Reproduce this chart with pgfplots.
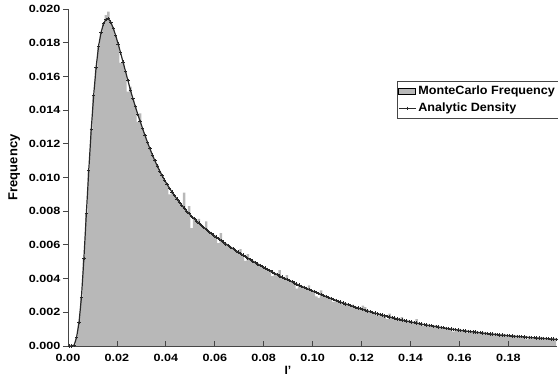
\documentclass[border=0pt]{standalone}
\usepackage{fontspec}
\setmainfont{Liberation Sans}
\newfontfamily\tickfont[FakeStretch=1.2]{Liberation Sans}
\newfontfamily\legfont[FakeStretch=1.05]{Liberation Sans}
\usepackage{pgfplots}
\usepackage{pgfplotstable}
\pgfplotsset{compat=1.18}
\definecolor{histgray}{RGB}{184,184,184}
\definecolor{lineclr}{RGB}{40,40,40}
\definecolor{axclr}{RGB}{70,70,70}
\pgfplotstableread{
x h d
0.0005 0 0
0.0015 0 0
0.0025 0.00005 0.00005
0.0035 0.0005 0.0005
0.0045 0.0014 0.0014
0.0055 0.0029 0.0029
0.0065 0.0052 0.0052
0.0075 0.00785 0.00785
0.0085 0.01045 0.01045
0.0095 0.01285 0.01285
0.0105 0.0149 0.0149
0.0115 0.01655 0.01655
0.0125 0.0178 0.0178
0.0135 0.0186 0.0186
0.0145 0.0191 0.01912
0.0155 0.01964 0.01938
0.0165 0.01985 0.01942
0.0175 0.01922 0.01922
0.0185 0.01885 0.01885
0.0195 0.01842 0.01842
0.0205 0.01793 0.01793
0.0215 0.0168 0.0174
0.0225 0.01685 0.01685
0.0235 0.0163 0.0163
0.0245 0.0151 0.01575
0.0255 0.0154 0.0152
0.0265 0.0147 0.0147
0.0275 0.01422 0.01422
0.0285 0.0133 0.01376
0.0295 0.0138 0.01333
0.0305 0.0129 0.0129
0.0315 0.01248 0.01248
0.0325 0.01208 0.01208
0.0335 0.0117 0.0117
0.0345 0.01134 0.01134
0.0355 0.011 0.011
0.0365 0.01075 0.01068
0.0375 0.01038 0.01038
0.0385 0.0101 0.0101
0.0395 0.00984 0.00984
0.0405 0.00959 0.00959
0.0415 0.009 0.00936
0.0425 0.00914 0.00914
0.0435 0.00893 0.00893
0.0445 0.00873 0.00873
0.0455 0.00854 0.00854
0.0465 0.00836 0.00836
0.0475 0.0091 0.00818
0.0485 0.00801 0.00801
0.0495 0.0083 0.00785
0.0505 0.007 0.0077
0.0515 0.00756 0.00756
0.0525 0.00742 0.00742
0.0535 0.00755 0.00729
0.0545 0.00716 0.00716
0.0555 0.00704 0.00704
0.0565 0.0074 0.00692
0.0575 0.0068 0.0068
0.0585 0.00669 0.00669
0.0595 0.00658 0.00658
0.0605 0.00647 0.00647
0.0615 0.0061 0.00637
0.0625 0.0067 0.00626
0.0635 0.00616 0.00616
0.0645 0.00606 0.00606
0.0655 0.00596 0.00596
0.0665 0.00586 0.00586
0.0675 0.00577 0.00577
0.0685 0.00567 0.00567
0.0695 0.00558 0.00558
0.0705 0.00575 0.00549
0.0715 0.00539 0.00539
0.0725 0.00505 0.0053
0.0735 0.00545 0.00521
0.0745 0.00512 0.00512
0.0755 0.00504 0.00504
0.0765 0.00495 0.00495
0.0775 0.00487 0.00487
0.0785 0.00479 0.00479
0.0795 0.00471 0.00471
0.0805 0.00463 0.00463
0.0815 0.00455 0.00455
0.0825 0.00447 0.00447
0.0835 0.00415 0.00439
0.0845 0.00431 0.00431
0.0855 0.00424 0.00424
0.0865 0.0045 0.00416
0.0875 0.00409 0.00409
0.0885 0.00402 0.00402
0.0895 0.0042 0.00395
0.0905 0.00388 0.00388
0.0915 0.00381 0.00381
0.0925 0.00374 0.00374
0.0935 0.0034 0.00367
0.0945 0.00361 0.00361
0.0955 0.00354 0.00354
0.0965 0.00348 0.00348
0.0975 0.00342 0.00342
0.0985 0.0036 0.00335
0.0995 0.00329 0.00329
0.1005 0.00323 0.00323
0.1015 0.00295 0.00317
0.1025 0.00285 0.0031
0.1035 0.0033 0.00304
0.1045 0.00299 0.00299
0.1055 0.00293 0.00293
0.1065 0.00287 0.00287
0.1075 0.00282 0.00282
0.1085 0.00262 0.00276
0.1095 0.00271 0.00271
0.1105 0.00265 0.00265
0.1115 0.0026 0.0026
0.1125 0.00245 0.00255
0.1135 0.0025 0.0025
0.1145 0.00245 0.00245
0.1155 0.0024 0.0024
0.1165 0.00245 0.00235
0.1175 0.0023 0.0023
0.1185 0.00226 0.00226
0.1195 0.00221 0.00221
0.1205 0.0024 0.00217
0.1215 0.0023 0.00212
0.1225 0.00208 0.00208
0.1235 0.00203 0.00203
0.1245 0.00199 0.00199
0.1255 0.00195 0.00195
0.1265 0.0018 0.00191
0.1275 0.00187 0.00187
0.1285 0.00183 0.00183
0.1295 0.00179 0.00179
0.1305 0.0016 0.00175
0.1315 0.00192 0.00172
0.1325 0.00168 0.00168
0.1335 0.00165 0.00165
0.1345 0.00161 0.00161
0.1355 0.00158 0.00158
0.1365 0.00172 0.00154
0.1375 0.00151 0.00151
0.1385 0.00148 0.00148
0.1395 0.00145 0.00145
0.1405 0.00142 0.00142
0.1415 0.00139 0.00139
0.1425 0.0016 0.00136
0.1435 0.00133 0.00133
0.1445 0.0013 0.0013
0.1455 0.0012 0.00127
0.1465 0.00125 0.00125
0.1475 0.00122 0.00122
0.1485 0.0012 0.0012
0.1495 0.00117 0.00117
0.1505 0.00122 0.00115
0.1515 0.00112 0.00112
0.1525 0.0011 0.0011
0.1535 0.00108 0.00108
0.1545 0.00105 0.00105
0.1555 0.00103 0.00103
0.1565 0.00101 0.00101
0.1575 0.00086 0.00099
0.1585 0.00097 0.00097
0.1595 0.00095 0.00095
0.1605 0.00093 0.00093
0.1615 0.00091 0.00091
0.1625 0.00089 0.00089
0.1635 0.0008 0.00087
0.1645 0.00085 0.00085
0.1655 0.00084 0.00084
0.1665 0.00082 0.00082
0.1675 0.0008 0.0008
0.1685 0.00079 0.00079
0.1695 0.00077 0.00077
0.1705 0.0008 0.00075
0.1715 0.00074 0.00074
0.1725 0.00072 0.00072
0.1735 0.00071 0.00071
0.1745 0.00069 0.00069
0.1755 0.00068 0.00068
0.1765 0.00066 0.00066
0.1775 0.00065 0.00065
0.1785 0.0006 0.00064
0.1795 0.00062 0.00062
0.1805 0.00061 0.00061
0.1815 0.0006 0.0006
0.1825 0.00058 0.00058
0.1835 0.00057 0.00057
0.1845 0.00056 0.00056
0.1855 0.00055 0.00055
0.1865 0.00054 0.00054
0.1875 0.0004 0.00052
0.1885 0.00051 0.00051
0.1895 0.0005 0.0005
0.1905 0.00049 0.00049
0.1915 0.00048 0.00048
0.1925 0.00047 0.00047
0.1935 0.0005 0.00046
0.1945 0.00045 0.00045
0.1955 0.00044 0.00044
0.1965 0.00043 0.00043
0.1975 0.00042 0.00042
0.1985 0.00041 0.00041
0.1995 0.0004 0.0004
}\mcdata
\begin{document}
\begin{tikzpicture}
\begin{axis}[
  at={(68pt,33pt)}, anchor=south west,
  scale only axis, width=489.3pt, height=337pt,
  xmin=0, xmax=0.2, ymin=0, ymax=0.02,
  clip=false,
  axis on top,
  axis x line=bottom, axis y line=left,
  axis line style={axclr, line width=0.8pt, -},
  every tick/.style={axclr, line width=0.8pt},
  major tick length=5pt,
  xtick align=inside, ytick align=outside,
  xtick={0,0.02,0.04,0.06,0.08,0.1,0.12,0.14,0.16,0.18},
  ytick={0,0.002,0.004,0.006,0.008,0.01,0.012,0.014,0.016,0.018,0.02},
  scaled x ticks=false, scaled y ticks=false,
  /pgf/number format/assume math mode=true,
  xticklabel style={font=\tickfont\fontsize{10.5}{12}\selectfont\bfseries, /pgf/number format/.cd, fixed, fixed zerofill, precision=2},
  yticklabel style={font=\tickfont\fontsize{10.5}{12}\selectfont\bfseries, /pgf/number format/.cd, fixed, fixed zerofill, precision=3},
  xticklabel shift=5pt,
  yticklabel shift=-1pt,
  xlabel={I'},
  xlabel style={font=\fontsize{12}{14}\selectfont\bfseries, at={(axis description cs:0.4496,0)}, anchor=center, yshift=-24pt},
  ylabel={Frequency},
  ylabel style={font=\fontsize{13}{15}\selectfont\bfseries, at={(axis description cs:-0.11,0.53)}, anchor=center},
  legend style={at={(axis description cs:0.672,0.786)}, anchor=north west, draw=axclr, line width=0.6pt,
    font=\legfont\fontsize{12}{14}\selectfont\bfseries, inner xsep=1pt, inner ysep=2.5pt, row sep=3pt},
  legend cell align=left,
]
\addplot[const plot mark mid, fill=histgray, draw=none, area legend] table[x=x, y=h] {\mcdata} \closedcycle;
\addlegendentry{MonteCarlo Frequency}
\addplot[color=lineclr, line width=1.2pt, mark=+, mark size=1.7pt, mark options={line width=0.7pt}] table[x=x, y=d] {\mcdata};
\addlegendentry{Analytic Density}
\end{axis}
\pgfresetboundingbox
\path[use as bounding box] (0,0) rectangle (558pt,379pt);
\end{tikzpicture}
\end{document}
